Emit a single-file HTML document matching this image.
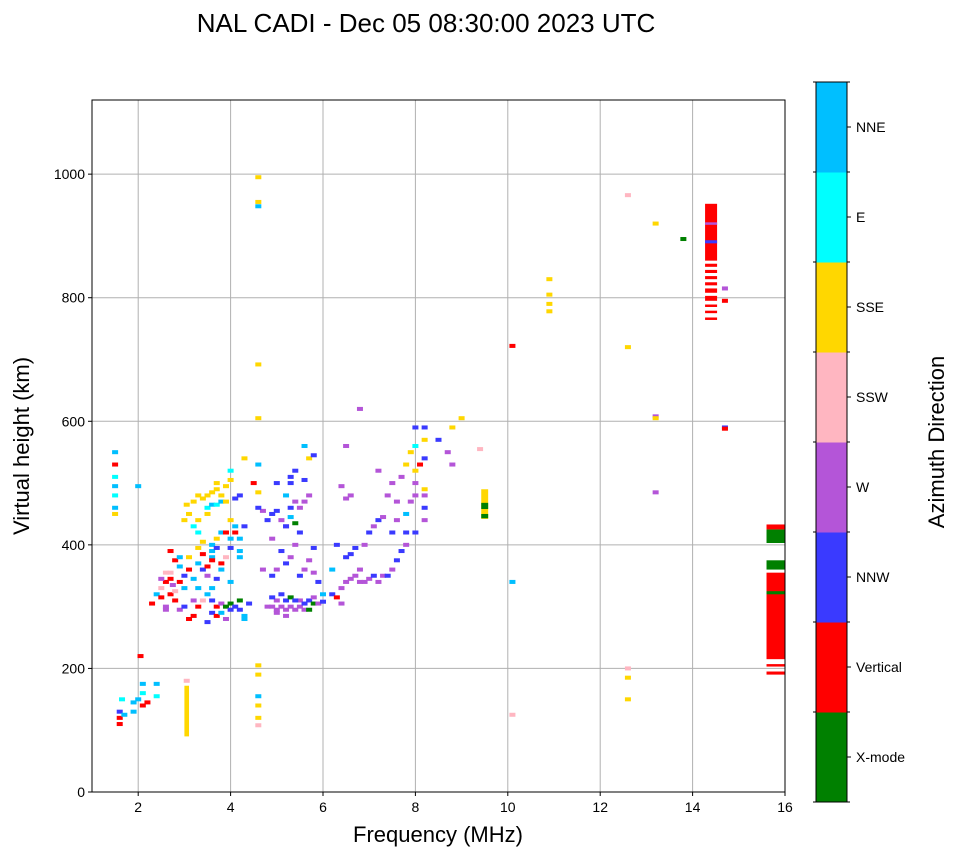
<!DOCTYPE html>
<html><head><meta charset="utf-8">
<style>
html,body{margin:0;padding:0;background:#fff;}
svg text{font-family:"Liberation Sans",Arial,sans-serif;}
</style></head>
<body>
<svg id="chart" width="958" height="857" viewBox="0 0 958 857" xmlns="http://www.w3.org/2000/svg">
<text x="426" y="32" font-size="26" text-anchor="middle">NAL CADI - Dec 05 08:30:00 2023 UTC</text>
<g id="grid"></g>
<g id="marks"></g>
<rect x="92" y="100" width="693" height="692" fill="none" stroke="#000" stroke-width="1"/>
<g id="axes"></g>
<text x="438" y="842" font-size="22" text-anchor="middle">Frequency (MHz)</text>
<text transform="translate(29,446) rotate(-90)" font-size="22" text-anchor="middle">Virtual height (km)</text>
<g id="colorbar"></g>
<text transform="translate(944,442) rotate(-90)" font-size="22" text-anchor="middle">Azimuth Direction</text>
</svg>
<script>
const catNames = ["X-mode","Vertical","NNW","W","SSW","SSE","E","NNE"];
const catColors = ["#008000","#ff0000","#3a3aff","#b455d8","#ffb6c1","#ffd700","#00ffff","#00bfff"];
const xTicks = [2,4,6,8,10,12,14,16];
const yTicks = [0,200,400,600,800,1000];
const pts = [
[1.6,110,1],[1.6,120,1],[1.6,130,2],[1.7,125,7],[1.65,150,6],[1.9,130,7],[1.9,145,7],[2.0,150,7],[2.1,140,1],[2.1,160,6],[2.1,175,7],[2.2,145,1],[2.05,220,1],[2.4,175,7],[2.4,155,6],
[1.5,550,7],[1.5,530,1],[1.5,510,6],[1.5,495,7],[1.5,480,6],[1.5,460,7],[1.5,450,5],[2.0,495,7],[3.05,180,4],
[2.3,305,1],[2.4,320,7],[2.5,315,1],[2.5,330,4],[2.6,300,3],[2.6,340,1],[2.7,345,1],[2.7,320,1],[2.75,335,3],[2.8,310,1],[2.9,340,1],[2.9,295,3],[2.6,295,3],[2.7,355,4],[2.8,375,1],[2.7,390,1],[2.9,380,7],[3.0,330,7],[3.0,350,2],[3.1,360,1],[3.1,380,5],[3.0,300,2],[3.1,280,1],[3.2,285,1],[3.2,310,3],[3.3,370,7],[3.3,395,5],[3.3,300,1],[3.4,360,2],[3.5,350,3],[3.5,365,1],[3.6,380,7],[3.6,390,7],[3.6,400,7],[3.7,395,2],[3.5,275,2],[3.6,290,2],[3.7,285,1],[3.7,300,1],[3.8,305,3],[3.8,290,7],[3.9,300,0],[4.0,305,0],[4.1,300,2],[4.2,295,2],[4.0,295,2],[4.2,310,0],[3.9,280,3],[4.3,285,7],[4.4,305,2],[3.8,360,7],[3.8,370,1],[3.9,380,4],[3.7,345,2],[3.6,330,7],[3.5,320,7],
[2.5,345,3],[2.6,355,4],[2.8,325,4],[2.9,365,7],[3.2,345,7],[3.4,385,1],[3.3,330,7],[3.4,310,4],[3.6,310,2],[3.6,375,1],[3.7,410,5],[3.8,420,7],
[3.0,440,5],[3.05,465,5],[3.1,450,5],[3.2,470,5],[3.3,480,5],[3.4,475,5],[3.5,480,5],[3.6,485,5],[3.7,490,5],[3.7,500,5],[3.8,480,5],[3.9,495,5],[4.0,505,5],[3.3,440,5],[3.5,450,5],[3.5,460,6],[3.6,465,7],[3.7,465,6],[3.8,470,7],[3.9,470,5],[4.0,520,6],[3.2,430,6],[3.3,420,6],[3.4,405,5],[3.9,420,1],[4.0,410,7],[4.1,420,1],[4.2,410,7],[4.2,390,7],[4.2,380,7],[4.0,395,2],[4.1,430,7],[4.0,440,5],[4.3,430,2],[4.3,540,5],[4.1,475,2],[4.2,480,2],
[4.6,995,5],[4.6,955,5],[4.6,948,7],[4.6,692,5],[4.6,605,5],[4.6,530,7],[4.6,485,5],[4.6,205,5],[4.6,190,5],[4.6,155,7],[4.6,140,5],[4.6,120,5],[4.6,108,4],[4.0,340,7],[4.3,280,7],
[4.8,300,3],[4.9,300,3],[5.0,295,3],[5.1,300,3],[5.2,295,3],[5.2,310,2],[5.3,300,3],[5.4,295,3],[5.5,300,3],[5.5,310,3],[5.6,305,2],[5.7,310,2],[5.8,305,0],[5.9,305,3],[5.0,310,3],[5.1,320,2],[4.9,315,2],[5.3,315,0],[5.4,310,2],[5.6,295,3],[6.0,308,2],[5.7,295,0],[5.2,285,3],[5.8,315,3],[5.0,290,3],
[4.7,455,3],[4.8,440,2],[4.9,450,2],[5.0,500,2],[5.0,455,2],[5.1,440,3],[5.2,430,3],[5.3,445,7],[5.3,460,2],[5.4,470,3],[5.5,460,3],[5.6,470,3],[5.7,480,3],[5.4,435,0],[5.2,480,7],[5.3,500,2],[5.6,560,7],[5.7,540,5],[5.8,545,2],[4.5,500,1],[4.6,460,2],[4.7,360,3],[4.9,350,2],[5.0,360,3],[5.2,370,2],[5.3,380,3],[5.1,390,2],[5.5,350,2],[5.6,360,3],[5.7,375,3],[5.8,355,3],[5.8,395,2],[5.4,400,3],[5.9,340,2],[5.2,430,2],[5.5,420,2],[4.9,410,3],[5.3,510,2],[5.4,520,2],[5.6,505,2],
[6.2,320,2],[6.3,315,1],[6.4,330,3],[6.5,340,3],[6.6,345,3],[6.7,350,3],[6.8,340,3],[6.9,340,3],[7.0,345,3],[7.1,350,2],[7.2,340,3],[7.3,350,3],[7.4,350,2],[7.5,360,3],[7.6,375,2],[7.7,390,2],[7.8,400,3],[7.8,420,2],[6.5,380,2],[6.6,385,2],[6.7,395,2],[6.8,360,3],[6.9,400,3],[7.0,420,2],[7.1,430,3],[7.2,440,2],[7.3,445,3],[7.5,420,2],[7.6,440,3],[6.5,475,3],[6.6,480,3],[6.4,495,3],[6.5,560,3],[6.8,620,3],[7.2,520,3],[7.4,480,3],[7.5,500,3],[7.6,470,3],[7.8,450,7],[7.9,470,3],[7.7,510,3],[7.8,530,5],[7.9,550,5],[8.0,590,2],[8.0,560,6],[8.0,520,5],[8.0,500,3],[8.0,480,3],[8.1,530,1],[8.2,540,2],[8.2,490,5],[8.2,480,3],[8.2,460,2],[8.2,440,3],[8.2,570,5],[8.2,590,2],[8.0,420,2],[8.5,570,2],[8.7,550,3],[8.8,530,3],[8.8,590,5],[9.0,605,5],[9.4,555,4],[6.3,400,2],[6.2,360,7],[6.4,305,3],[6.0,320,7],
[10.1,722,1],[10.1,340,7],[10.1,125,4],[10.9,830,5],[10.9,805,5],[10.9,790,5],[10.9,778,5],[12.6,966,4],[12.6,720,5],[12.6,200,4],[12.6,185,5],[12.6,150,5],[13.2,920,5],[13.2,608,3],[13.2,605,5],[13.2,485,3],[13.8,895,0],[14.7,815,3],[14.7,795,1],[14.7,590,2],[14.7,588,1]
];
// blocks: [freqCenter, heightLow, heightHigh, widthMHz, cat]
const blocks = [
[3.05,90,172,0.1,5],[9.5,442,490,0.15,5],[9.5,458,468,0.15,0],[9.5,443,450,0.15,0],
[14.4,860,952,0.26,1],[14.4,850,855,0.26,1],[14.4,840,845,0.26,1],[14.4,830,835,0.26,1],[14.4,820,825,0.26,1],[14.4,808,815,0.26,1],[14.4,795,803,0.26,1],[14.4,785,789,0.26,1],[14.4,775,779,0.26,1],[14.4,764,768,0.26,1],[14.4,888,893,0.26,2],[14.4,918,922,0.26,3],
[15.8,215,355,0.4,1],[15.8,360,375,0.4,0],[15.8,403,425,0.4,0],[15.8,425,433,0.4,1],[15.8,190,195,0.4,1],[15.8,203,207,0.4,1],[15.8,320,325,0.4,0]
];
const NS="http://www.w3.org/2000/svg";
const X0=92,X1=785,Y0=792,Y1=100;
const xs=f=>X0+(f-1)/15*(X1-X0);
const ys=h=>Y0-h/1120*(Y0-Y1);
function mk(tag,attrs,parent){const e=document.createElementNS(NS,tag);for(const k in attrs)e.setAttribute(k,attrs[k]);parent.appendChild(e);return e;}
const grid=document.getElementById('grid'),axes=document.getElementById('axes'),marks=document.getElementById('marks'),cb=document.getElementById('colorbar');
xTicks.forEach(t=>{const x=xs(t);
 const g=mk('line',{x1:x,x2:x,y1:Y1,y2:Y0,stroke:'#b0b0b0','stroke-width':1},grid);
 
 
 mk('line',{x1:x,x2:x,y1:Y0,y2:Y0+4,stroke:'#000'},axes);
 const tx=mk('text',{x:x,y:Y0+20,'font-size':14,'text-anchor':'middle'},axes);tx.textContent=t;
 
 
});
yTicks.forEach(t=>{const y=ys(t);
 const g=mk('line',{x1:X0,x2:X1,y1:y,y2:y,stroke:'#b0b0b0','stroke-width':1},grid);
 
 
 mk('line',{x1:X0-4,x2:X0,y1:y,y2:y,stroke:'#000'},axes);
 const tx=mk('text',{x:X0-7,y:y+5,'font-size':14,'text-anchor':'end'},axes);tx.textContent=t;
 
 
});
const cw=0.13/15*(X1-X0), ch=6.5/1120*(Y0-Y1);
pts.forEach(p=>{
 const r=mk('rect',{x:xs(p[0])-cw/2,y:ys(p[1])-ch/2,width:cw,height:ch,fill:catColors[p[2]]},marks);
 
 
});
blocks.forEach(b=>{
 const w=b[3]/15*(X1-X0);
 const r=mk('rect',{x:xs(b[0])-w/2,y:ys(b[2]),width:w,height:ys(b[1])-ys(b[2]),fill:catColors[b[4]]},marks);
 
 
});
const CX=816,CW=31,CT=82,CB=802,seg=(CB-CT)/catNames.length;
catNames.forEach((n,i)=>{
 const y=CB-(i+1)*seg;
 const r=mk('rect',{x:CX,y:y,width:CW,height:seg+0.5,fill:catColors[i]},cb);
 
 
 mk('line',{x1:CX+CW,x2:CX+CW+4,y1:y+seg/2,y2:y+seg/2,stroke:'#000'},cb);
 const t=mk('text',{x:CX+CW+9,y:y+seg/2+5,'font-size':14},cb);t.textContent=n;
 
 
});
for(let i=0;i<=catNames.length;i++){const y=CT+i*seg;mk('line',{x1:CX-3,x2:CX,y1:y,y2:y,stroke:'#000'},cb);mk('line',{x1:CX+CW,x2:CX+CW+3,y1:y,y2:y,stroke:'#000'},cb);}
mk('rect',{x:CX,y:CT,width:CW,height:CB-CT,fill:'none',stroke:'#000'},cb);
</script>
</body></html>
